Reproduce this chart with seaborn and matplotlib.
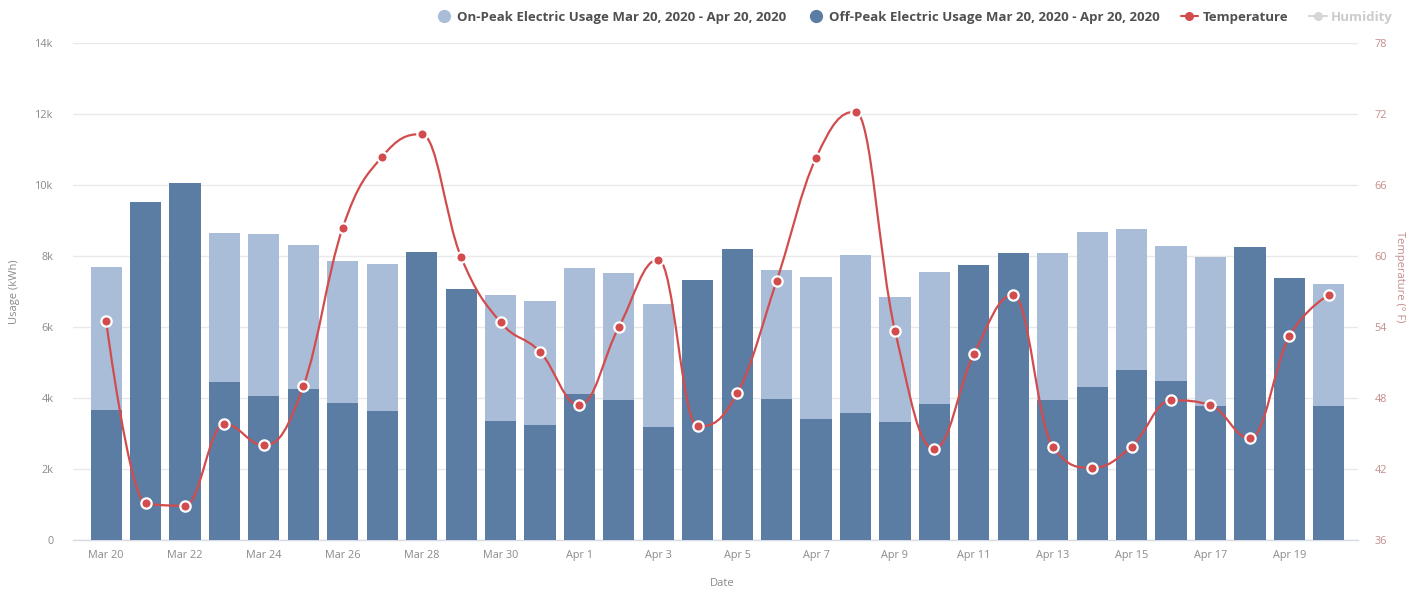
import matplotlib
matplotlib.use("Agg")
import matplotlib.pyplot as plt
import seaborn as sns
import pandas as pd
from matplotlib.path import Path
from matplotlib.patches import PathPatch
from matplotlib.lines import Line2D

# ---- data -------------------------------------------------------------
dates = ["Mar 20", "Mar 21", "Mar 22", "Mar 23", "Mar 24", "Mar 25", "Mar 26",
         "Mar 27", "Mar 28", "Mar 29", "Mar 30", "Mar 31", "Apr 1", "Apr 2",
         "Apr 3", "Apr 4", "Apr 5", "Apr 6", "Apr 7", "Apr 8", "Apr 9",
         "Apr 10", "Apr 11", "Apr 12", "Apr 13", "Apr 14", "Apr 15", "Apr 16",
         "Apr 17", "Apr 18", "Apr 19", "Apr 20"]

off_peak_kwh = [3660, 9530, 10070, 4460, 4070, 4250, 3850, 3620, 8110, 7060,
                3360, 3240, 4110, 3940, 3170, 7310, 8200, 3980, 3410, 3590,
                3320, 3820, 7760, 8090, 3930, 4300, 4790, 4490, 3780, 8260,
                7370, 3780]

on_peak_kwh = [4030, 0, 0, 4200, 4560, 4070, 4000, 4160, 0, 0,
               3550, 3490, 3540, 3570, 3470, 0, 0, 3630, 4010, 4430,
               3530, 3740, 0, 0, 4160, 4380, 3960, 3800, 4200, 0,
               0, 3430]

temperature_f = [54.5, 39.1, 38.9, 45.8, 44.0, 49.0, 62.4, 68.4, 70.3, 59.9,
                 54.4, 51.9, 47.4, 54.0, 59.7, 45.6, 48.4, 57.9, 68.3, 72.2,
                 53.7, 43.7, 51.7, 56.7, 43.9, 42.1, 43.9, 47.8, 47.4, 44.6,
                 53.2, 56.7]

usage_ticks = [0, 2000, 4000, 6000, 8000, 10000, 12000, 14000]
usage_tick_labels = ["0", "2k", "4k", "6k", "8k", "10k", "12k", "14k"]
temp_ticks = [36, 42, 48, 54, 60, 66, 72, 78]

legend_labels = ["On-Peak Electric Usage Mar 20, 2020 - Apr 20, 2020",
                 "Off-Peak Electric Usage Mar 20, 2020 - Apr 20, 2020",
                 "Temperature", "Humidity"]

# ---- styling ----------------------------------------------------------
ON_COLOR = "#a9bdd8"
OFF_COLOR = "#5b7ca3"
TEMP_COLOR = "#d24c4e"
GRID_COLOR = "#e9e9e9"
TICK_COLOR = "#8a8a8a"
TEMP_AXIS_COLOR = "#c48a8a"

sns.set_theme(style="white")
plt.rcParams["font.family"] = ["Open Sans", "DejaVu Sans"]

df = pd.DataFrame({
    "date": dates,
    "off": off_peak_kwh,
    "on": on_peak_kwh,
})
df["total"] = df["off"] + df["on"]

W, H = 1408, 593
fig = plt.figure(figsize=(W / 100, H / 100), dpi=100)
ax = fig.add_axes([73 / W, 1 - 540 / H, (1358 - 73) / W, (540 - 43) / H])

# stacked columns: full stack in light blue, off-peak portion over it
sns.barplot(data=df, x="date", y="total", order=dates, color=ON_COLOR,
            saturation=1, width=0.79, linewidth=0, ax=ax, zorder=2)
sns.barplot(data=df, x="date", y="off", order=dates, color=OFF_COLOR,
            saturation=1, width=0.79, linewidth=0, ax=ax, zorder=3)

ax.set_xlim(-0.84, 31.74)
ax.set_ylim(0, 14000)
ax.set_yticks(usage_ticks)
ax.set_yticklabels(usage_tick_labels)
ax.set_xticks(range(0, len(dates), 2))
ax.set_xticklabels(dates[::2])
ax.tick_params(axis="both", length=0, labelsize=7.8, colors=TICK_COLOR)
ax.tick_params(axis="y", pad=14)
ax.tick_params(axis="x", pad=7)
ax.grid(axis="y", color=GRID_COLOR, linewidth=1, zorder=0)
ax.set_axisbelow(True)
for side in ["top", "left", "right"]:
    ax.spines[side].set_visible(False)
ax.spines["bottom"].set_color("#d6dbe4")
ax.spines["bottom"].set_linewidth(1)
ax.set_xlabel("Date", fontsize=8, color=TICK_COLOR)
ax.xaxis.set_label_coords((722 - 73) / (1358 - 73), -(578 - 540) / (540 - 43))
ax.set_ylabel("Usage (kWh)", fontsize=8, color=TICK_COLOR)
ax.yaxis.set_label_coords(-(73 - 20) / (1358 - 73), 0.5)

# ---- temperature on a secondary axis ------------------------------------
ax2 = ax.twinx()
ax2.set_ylim(36, 78)
ax2.set_yticks(temp_ticks)
ax2.tick_params(axis="y", length=0, labelsize=7.8, colors=TEMP_AXIS_COLOR, pad=12)
for side in ax2.spines:
    ax2.spines[side].set_visible(False)
ax2.set_ylabel("Temperature (° F)", fontsize=8, color=TEMP_AXIS_COLOR,
               rotation=270, va="center")
ax2.yaxis.set_label_coords((1399 - 73) / (1358 - 73), 0.53)


def smooth_path(xs, ys, smoothing=1.5):
    """Cubic Bezier path through every point, with Highcharts-style controls."""
    n = len(xs)
    denom = smoothing + 1
    left = [(x, y) for x, y in zip(xs, ys)]
    right = [(x, y) for x, y in zip(xs, ys)]
    for i in range(1, n - 1):
        px, py = xs[i], ys[i]
        lx, ly = xs[i - 1], ys[i - 1]
        nx, ny = xs[i + 1], ys[i + 1]
        lcx = (smoothing * px + lx) / denom
        lcy = (smoothing * py + ly) / denom
        rcx = (smoothing * px + nx) / denom
        rcy = (smoothing * py + ny) / denom
        if rcx != lcx:
            corr = (rcy - lcy) * (rcx - px) / (rcx - lcx) + py - rcy
            lcy += corr
            rcy += corr
        if lcy > ly and lcy > py:
            lcy = max(ly, py)
            rcy = 2 * py - lcy
        elif lcy < ly and lcy < py:
            lcy = min(ly, py)
            rcy = 2 * py - lcy
        if rcy > ny and rcy > py:
            rcy = max(ny, py)
            lcy = 2 * py - rcy
        elif rcy < ny and rcy < py:
            rcy = min(ny, py)
            lcy = 2 * py - rcy
        left[i] = (lcx, lcy)
        right[i] = (rcx, rcy)
    verts = [(xs[0], ys[0])]
    codes = [Path.MOVETO]
    for i in range(1, n):
        verts += [right[i - 1], left[i], (xs[i], ys[i])]
        codes += [Path.CURVE4] * 3
    return Path(verts, codes)


positions = list(range(len(dates)))
ax2.add_patch(PathPatch(smooth_path(positions, temperature_f), facecolor="none",
                        edgecolor=TEMP_COLOR, linewidth=1.6, zorder=4))
temp_df = pd.DataFrame({"pos": positions, "temp": temperature_f})
sns.scatterplot(data=temp_df, x="pos", y="temp", ax=ax2, color=TEMP_COLOR,
                s=55, edgecolor="white", linewidth=1.6, zorder=5, legend=False)
ax2.set_xlim(-0.84, 31.74)
ax2.set_xlabel("")

# ---- legend -------------------------------------------------------------
handles = [
    Line2D([], [], marker="o", linestyle="none", markersize=8.5,
           markerfacecolor=ON_COLOR, markeredgecolor=ON_COLOR),
    Line2D([], [], marker="o", linestyle="none", markersize=8.5,
           markerfacecolor=OFF_COLOR, markeredgecolor=OFF_COLOR),
    Line2D([], [], marker="o", color=TEMP_COLOR, linewidth=1.5, markersize=5.5,
           markerfacecolor=TEMP_COLOR, markeredgecolor=TEMP_COLOR),
    Line2D([], [], marker="o", color="#d6d6d6", linewidth=1.5, markersize=5.5,
           markerfacecolor="#d6d6d6", markeredgecolor="#d6d6d6"),
]
leg = fig.legend(handles, legend_labels, loc="center",
                 bbox_to_anchor=(914 / W, 1 - 17 / H), ncol=4,
                 frameon=False, fontsize=9.5, handlelength=1.3,
                 handletextpad=0.35, columnspacing=1.6)
for i, txt in enumerate(leg.get_texts()):
    txt.set_fontweight("bold")
    txt.set_color("#505050" if i < 3 else "#cccccc")

fig.savefig("out.png", dpi=100)
